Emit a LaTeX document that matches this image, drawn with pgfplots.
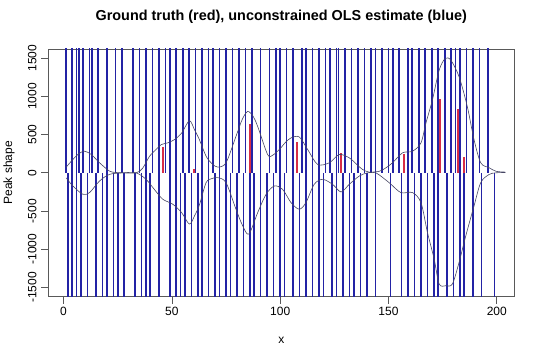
\documentclass[border=0pt]{standalone}
\usepackage{fontspec}
\setmainfont{Liberation Sans}
\usepackage{pgfplots}
\pgfplotsset{compat=1.18}
\definecolor{spk}{RGB}{35,35,165}
\definecolor{tru}{RGB}{215,45,70}
\definecolor{crv}{RGB}{70,70,100}
\begin{document}
\begin{tikzpicture}[font=\fontsize{12}{14}\selectfont]
\path[use as bounding box] (-48.5pt,-62.3pt) rectangle (491.5pt,296.7pt);
\begin{axis}[
 scale only axis, width=465.5pt, height=247.7pt,
 xmin=-6.96, xmax=207.96, ymin=-1620, ymax=1620,
 xtick={0,50,...,200}, ytick={-1500,-1000,...,1500},
 tick align=outside, tick pos=left, major tick length=7pt,
 axis line style={black!65, line width=0.7pt},
 every tick/.style={black!65, line width=0.7pt},
 /pgf/number format/assume math mode=true, /pgf/number format/1000 sep={},
 yticklabel style={rotate=90, anchor=south},
 yticklabel shift=1.5pt,
 title={Ground truth (red), unconstrained OLS estimate (blue)},
 title style={font=\fontsize{14.4}{17}\selectfont\bfseries, at={(0.5,1)}, anchor=center, yshift=26pt},
 xlabel={x}, xlabel style={at={(0.5,0)}, anchor=center, yshift=-44pt},
 ylabel={Peak shape}, ylabel style={at={(-0.08485,0.5)}, anchor=center},
]
% blue OLS spikes (huge values, clipped)
\addplot[spk, line width=1.6pt, ycomb, no markers] coordinates {
(1,5000)(4,5000)(6,5000)(7,5000)(9,5000)(12,5000)(13,5000)(16,5000)(20,5000)(24,5000)
(27,5000)(32,5000)(35,5000)(38,5000)(41,5000)(44,5000)(47,5000)(49,5000)(52,5000)(55,5000)
(58,5000)(61,5000)(64,5000)(67,5000)(69,5000)(72,5000)(75,5000)(78,5000)(81,5000)(84,5000)
(87,5000)(91,5000)(95,5000)(98,5000)(100,5000)(103,5000)(106,5000)(110,5000)(112,5000)(115,5000)
(118,5000)(121,5000)(123,5000)(126,5000)(127,5000)(130,5000)(133,5000)(136,5000)(139,5000)(142,5000)
(144,5000)(147,5000)(150,5000)(152,5000)(155,5000)(159,5000)(161,5000)(164,5000)(167,5000)(170,5000)
(173,5000)(176,5000)(179,5000)(181,5000)(183,5000)(186,5000)(189,5000)(192,5000)(196,5000)
};
\addplot[spk, line width=1.6pt, ycomb, no markers] coordinates {
(2,-5000)(4,-5000)(6,-5000)(8,-5000)(11,-5000)(15,-5000)(18,-5000)(20,-5000)(23,-5000)(25,-5000)
(28,-5000)(33,-5000)(36,-5000)(38,-5000)(40,-5000)(44,-5000)(49,-5000)(52,-5000)(54,-5000)(56,-5000)
(59,-5000)(62,-5000)(64,-5000)(67,-5000)(70,-5000)(72,-5000)(75,-5000)(77,-5000)(80,-5000)(83,-5000)
(86,-5000)(88,-5000)(91,-5000)(94,-5000)(97,-5000)(100,-5000)(102,-5000)(106,-5000)(109,-5000)(112,-5000)
(115,-5000)(118,-5000)(120,-5000)(124,-5000)(126,-5000)(129,-5000)(132,-5000)(134,-5000)(137,-5000)(140,-5000)
(144,-5000)(151,-5000)(156,-5000)(159,-5000)(162,-5000)(165,-5000)(168,-5000)(171,-5000)(173,-5000)(177,-5000)
(180,-5000)(183,-5000)(185,-5000)(189,-5000)(193,-5000)(199,-5000)
};
% red ground truth
\addplot[tru, line width=2pt, ycomb, no markers] coordinates {
(46,344)(60,45)(86,643)(108,400)(128,262)(157,240)(174,963)(182,837)(185,210)
};
% upper curve
\addplot[crv, line width=0.6pt, smooth, no markers] coordinates {
(1.2,75)(4.3,175)(7,250)(9.7,283)(12.8,240)(16.6,132)(21.2,23)(24,5)(27.3,0)(33.5,0)
(36.5,60)(39.7,218)(42.5,300)(45.1,370)(48.1,392)(51.2,435)(54.5,520)(58.1,682)(60.5,560)(62.7,435)
(65.8,218)(68.5,120)(71.2,75)(75,132)(79.6,478)(82.5,700)(85,803)(87.5,740)(89.6,608)(94.2,240)
(96.5,230)(99.6,305)(102.5,400)(105,457)(108.8,470)(112.7,305)(117.3,110)(122.7,132)(127.3,240)(131.9,197)
(135,120)(138,45)(141.1,10)(145.7,20)(148.5,60)(151.9,132)(156.5,262)(161.1,283)(165,392)(167.3,652)
(170.3,955)(173.4,1344)(176.2,1496)(178.8,1474)(182.6,1257)(186.4,867)(189.5,435)(192.6,132)(196.4,68)(199.7,20)(204,10)
};
% lower curve
\addplot[crv, line width=0.6pt, smooth, no markers] coordinates {
(1.2,-65)(4.3,-172)(8.9,-280)(12,-258)(16.6,-107)(21.2,-20)(27.3,0)(33.5,0)(38.1,-85)(42,-220)
(45.8,-345)(50.4,-410)(54.5,-520)(58.1,-670)(60.5,-560)(62.7,-420)(65.8,-128)(68.5,-75)(71.2,-63)(75,-128)
(79.6,-476)(82.5,-680)(85.5,-802)(89.6,-522)(93.5,-280)(97.3,-172)(101.1,-215)(105,-389)(108.8,-476)(111.9,-389)
(115.7,-150)(119.6,-85)(124.2,-150)(128.1,-250)(131.9,-150)(136.5,-42)(140.3,0)(144.2,0)(150.3,-128)(155.7,-258)
(161.1,-258)(165,-389)(168,-780)(171.1,-1128)(173.4,-1454)(176.5,-1476)(179.5,-1454)(182.6,-1171)(185.7,-824)(189.5,-433)
(192.6,-128)(196.4,-22)(199.5,0)(204,5)
};
\end{axis}
\end{tikzpicture}
\end{document}
